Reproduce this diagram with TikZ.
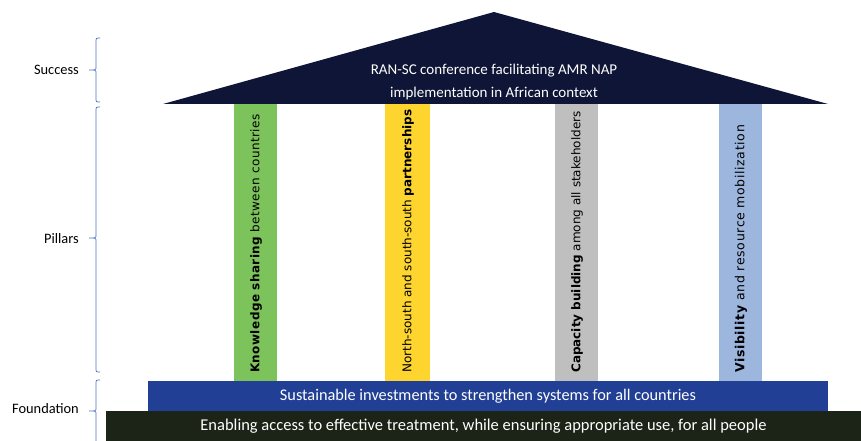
\documentclass[tikz,border=0pt]{standalone}
\usepackage{fontspec}
\setmainfont{Carlito}
\newfontfamily\pillarfont{DejaVu Sans}
\newfontfamily\pillarfontA[LetterSpace=3.4]{DejaVu Sans}
\newfontfamily\pillarfontD[LetterSpace=5]{DejaVu Sans}
\definecolor{roofnavy}{HTML}{0F1536}
\definecolor{pgreen}{HTML}{7DC35B}
\definecolor{pyellow}{HTML}{FDD52E}
\definecolor{pgray}{HTML}{BFBFBF}
\definecolor{pblue}{HTML}{9DB6DD}
\definecolor{basebar}{HTML}{203F95}
\definecolor{groundbar}{HTML}{1B2416}
\definecolor{bracecol}{HTML}{4A72C0}
\begin{document}
\begin{tikzpicture}[x=1pt,y=-1pt,
  pillar/.style={fill=#1,draw=none},
  pillartext/.style={rotate=90,anchor=west,inner sep=0pt,text=black},
  barnode/.style={fill=#1,draw=none,text=white,inner sep=0pt},
  levellabel/.style={font=\fontsize{14.4}{17}\selectfont,anchor=east,inner sep=0pt},
  bracepath/.style={draw=bracecol,line width=0.7pt}]
\useasboundingbox (0,0) rectangle (861,441);
\fill[white] (0,0) rectangle (861,441);

% roof
\fill[roofnavy] (163,104) -- (494,12) -- (828,104) -- cycle;
\node[text=white,align=center,font=\fontsize{15}{23}\selectfont] (roof) at (494,82)
  {RAN-SC conference facilitating AMR NAP\\implementation in African context};

% pillars
\fill[pillar=pgreen] (234,104) rectangle (277,381);
\fill[pillar=pyellow] (385,104) rectangle (430,381);
\fill[pillar=pgray] (555,104) rectangle (598,381);
\fill[pillar=pblue] (719,104) rectangle (762,381);
\node[pillartext,font=\pillarfontA\fontsize{12}{14}\selectfont] (p1) at (256,373)
  {\textbf{Knowledge sharing} between countries};
\node[pillartext,font=\pillarfont\fontsize{12}{14}\selectfont] (p2) at (408,373)
  {North-south and south-south \textbf{partnerships}};
\node[pillartext,font=\pillarfont\fontsize{12}{14}\selectfont] (p3) at (577,373)
  {\textbf{Capacity building} among all stakeholders};
\node[pillartext,font=\pillarfontD\fontsize{12.5}{14}\selectfont] (p4) at (741,373)
  {\textbf{Visibility} and resource mobilization};

% foundation bars
\node[barnode=basebar,minimum width=680pt,minimum height=30pt,font=\fontsize{16.3}{18}\selectfont] (base) at (488,396)
  {Sustainable investments to strengthen systems for all countries};
\node[barnode=groundbar,minimum width=755pt,minimum height=30pt,font=\fontsize{16.5}{18}\selectfont] (ground) at (483.5,426)
  {Enabling access to effective treatment, while ensuring appropriate use, for all people};

% level labels
\node[levellabel] (success) at (79,70) {Success};
\node[levellabel] (pillars) at (79,239) {Pillars};
\node[levellabel] (foundation) at (79,409) {Foundation};

% braces
\draw[bracepath] (100,38) .. controls (96,38) .. (96,42) -- (96,67) .. controls (96,70) .. (89,70)
  .. controls (96,70) .. (96,73) -- (96,98) .. controls (96,102) .. (100,102);
\draw[bracepath] (100,107) .. controls (96,107) .. (96,111) -- (96,235) .. controls (96,238) .. (89,238)
  .. controls (96,238) .. (96,241) -- (96,368) .. controls (96,372) .. (100,372);
\draw[bracepath] (100,380) .. controls (96,380) .. (96,384) -- (96,408) .. controls (96,411) .. (89,411)
  .. controls (96,411) .. (96,414) -- (96,441);
\end{tikzpicture}
\end{document}
